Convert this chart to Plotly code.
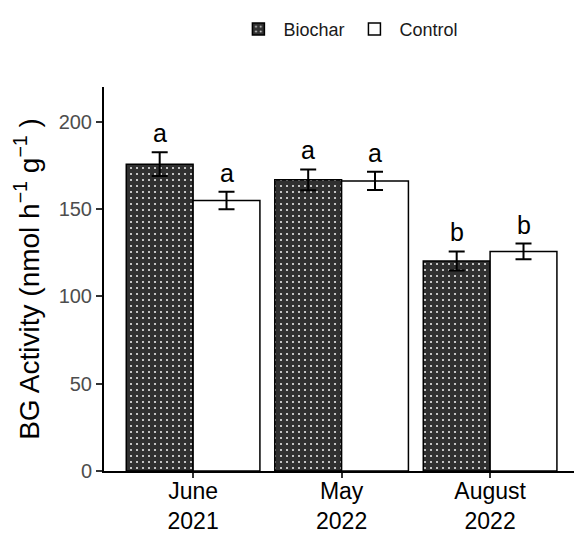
import plotly.graph_objects as go

categories = ["June<br>2021", "May<br>2022", "August<br>2022"]
biochar_mean = [175.8, 166.8, 120.3]
biochar_se = [6.8, 6.0, 5.5]
control_mean = [155.0, 166.2, 125.8]
control_se = [5.0, 5.2, 4.5]
biochar_letters = ["a", "a", "b"]
control_letters = ["a", "a", "b"]
y_ticks = [0, 50, 100, 150, 200]

fig = go.Figure()
fig.add_trace(go.Bar(
    name="Biochar", x=categories, y=biochar_mean,
    error_y=dict(type="data", array=biochar_se, color="black", thickness=2, width=8),
    marker=dict(color="#303030", line=dict(color="black", width=1.5),
                pattern=dict(shape=".", bgcolor="#303030", fgcolor="#e8e8e8",
                             size=6, solidity=0.1, fillmode="replace")),
))
fig.add_trace(go.Bar(
    name="Control", x=categories, y=control_mean,
    error_y=dict(type="data", array=control_se, color="black", thickness=2, width=8),
    marker=dict(color="white", line=dict(color="black", width=1.5)),
))

# significance letters
for i, c in enumerate(categories):
    for off, m, s, lab in [(-0.225, biochar_mean[i], biochar_se[i], biochar_letters[i]),
                           (0.225, control_mean[i], control_se[i], control_letters[i])]:
        fig.add_annotation(x=i + off, y=m + s, text=lab, showarrow=False,
                           xref="x", yref="y", yanchor="bottom", yshift=3,
                           font=dict(size=25, color="black", family="Liberation Sans"))

fig.update_layout(
    width=574, height=535,
    margin=dict(l=104, r=0, t=87, b=64),
    paper_bgcolor="white", plot_bgcolor="white",
    barmode="group", bargap=0.1, bargroupgap=0,
    font=dict(family="Liberation Sans", color="black"),
    showlegend=True,
    legend=dict(orientation="h", x=0.52, xanchor="center", y=1.15, yanchor="middle",
                font=dict(size=18, color="#1a1a1a"), itemwidth=40),
)
fig.update_xaxes(
    type="category", range=[-0.6, 2.565], automargin=False,
    showline=True, linecolor="black", linewidth=2,
    ticks="outside", ticklen=5, tickwidth=2, tickcolor="#333333",
    ticklabelstandoff=-7,
    tickfont=dict(size=23, color="black"),
    showgrid=False, zeroline=False,
)
fig.update_yaxes(
    range=[0, 220], tickvals=y_ticks, automargin=False,
    showline=True, linecolor="black", linewidth=2,
    ticks="outside", ticklen=6, tickwidth=2, tickcolor="#333333",
    tickfont=dict(size=20, color="#4d4d4d"),
    showgrid=False, zeroline=False,
    title=dict(text="BG Activity (nmol h<sup>−1</sup> g<sup>−1</sup> )",
               font=dict(size=28, color="black"), standoff=11),
)

fig.write_html("out.html")
